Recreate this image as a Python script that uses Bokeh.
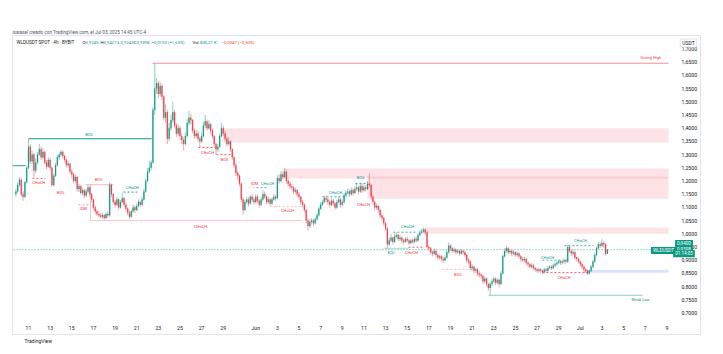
import pandas as pd
from bokeh.plotting import figure
from bokeh.models import Range1d, FixedTicker, Label, Title, ColumnDataSource
from bokeh.core.properties import value
from bokeh.embed import file_html
from bokeh.resources import INLINE

# ---------------- data (WLDUSDT 4h) ----------------
FIRST_BAR = "2025-05-09 20:00"
FIRST_OPEN = 1.150
CLOSE = [
    1.160, 1.185, 1.205, 1.150, 1.140, 1.195,
    1.250, 1.330, 1.275, 1.300, 1.240, 1.270,
    1.300, 1.320, 1.290, 1.310, 1.270, 1.255,
    1.280, 1.250, 1.185, 1.220, 1.260, 1.290,
    1.300, 1.310, 1.295, 1.280, 1.260, 1.265,
    1.235, 1.225, 1.200, 1.215, 1.170, 1.180,
    1.155, 1.165, 1.145, 1.160, 1.175, 1.150,
    1.130, 1.100, 1.085, 1.075, 1.070, 1.065,
    1.070, 1.060, 1.075, 1.070, 1.185, 1.150,
    1.120, 1.110, 1.130, 1.100, 1.120, 1.135,
    1.110, 1.095, 1.080, 1.065, 1.085, 1.100,
    1.090, 1.105, 1.120, 1.110, 1.130, 1.160,
    1.200, 1.235, 1.250, 1.270, 1.470, 1.550,
    1.570, 1.530, 1.560, 1.520, 1.440, 1.460,
    1.360, 1.400, 1.430, 1.460, 1.410, 1.380,
    1.400, 1.370, 1.355, 1.340, 1.370, 1.420,
    1.440, 1.430, 1.390, 1.370, 1.380, 1.360,
    1.350, 1.370, 1.410, 1.425, 1.400, 1.415,
    1.390, 1.370, 1.340, 1.320, 1.330, 1.370,
    1.400, 1.380, 1.360, 1.340, 1.350, 1.320,
    1.290, 1.260, 1.230, 1.220, 1.190, 1.130,
    1.090, 1.120, 1.130, 1.115, 1.140, 1.130,
    1.120, 1.140, 1.125, 1.110, 1.130, 1.150,
    1.140, 1.120, 1.130, 1.115, 1.130, 1.140,
    1.135, 1.210, 1.200, 1.225, 1.215, 1.235,
    1.200, 1.190, 1.180, 1.175, 1.160, 1.165,
    1.150, 1.140, 1.120, 1.110, 1.090, 1.050,
    1.030, 1.045, 1.050, 1.040, 1.055, 1.070,
    1.095, 1.110, 1.120, 1.135, 1.130, 1.120,
    1.110, 1.125, 1.115, 1.100, 1.120, 1.130,
    1.110, 1.120, 1.145, 1.155, 1.160, 1.150,
    1.165, 1.155, 1.170, 1.175, 1.160, 1.180,
    1.165, 1.175, 1.170, 1.190, 1.185, 1.140,
    1.120, 1.100, 1.105, 1.090, 1.070, 1.060,
    1.040, 1.020, 0.960, 0.975, 0.985, 0.970,
    0.990, 0.995, 0.980, 0.985, 0.975, 0.970,
    0.980, 0.975, 0.965, 0.975, 0.970, 0.980,
    0.975, 0.995, 1.005, 1.010, 1.015, 1.005,
    0.950, 0.945, 0.930, 0.925, 0.935, 0.920,
    0.910, 0.915, 0.905, 0.900, 0.910, 0.930,
    0.955, 0.945, 0.935, 0.940, 0.930, 0.935,
    0.925, 0.935, 0.930, 0.920, 0.900, 0.895,
    0.870, 0.875, 0.860, 0.865, 0.850, 0.845,
    0.840, 0.820, 0.830, 0.810, 0.795, 0.810,
    0.820, 0.830, 0.815, 0.825, 0.810, 0.850,
    0.915, 0.935, 0.945, 0.930, 0.935, 0.925,
    0.930, 0.920, 0.925, 0.915, 0.905, 0.900,
    0.905, 0.890, 0.885, 0.875, 0.880, 0.870,
    0.865, 0.860, 0.865, 0.860, 0.855, 0.865,
    0.860, 0.870, 0.875, 0.870, 0.880, 0.885,
    0.890, 0.895, 0.890, 0.895, 0.900, 0.895,
    0.950, 0.935, 0.925, 0.930, 0.910, 0.905,
    0.895, 0.885, 0.875, 0.865, 0.860, 0.850,
    0.860, 0.875, 0.895, 0.920, 0.945, 0.960,
    0.955, 0.965, 0.960, 0.9245, 0.9398,
]
HIGH = [
    1.170, 1.195, 1.215, 1.210, 1.160, 1.200,
    1.258, 1.360, 1.340, 1.315, 1.305, 1.285,
    1.310, 1.340, 1.330, 1.325, 1.315, 1.280,
    1.290, 1.288, 1.255, 1.228, 1.268, 1.298,
    1.308, 1.318, 1.315, 1.300, 1.285, 1.275,
    1.270, 1.245, 1.232, 1.225, 1.220, 1.190,
    1.186, 1.175, 1.170, 1.170, 1.186, 1.180,
    1.155, 1.135, 1.108, 1.092, 1.085, 1.078,
    1.080, 1.075, 1.082, 1.085, 1.195, 1.190,
    1.155, 1.128, 1.140, 1.135, 1.128, 1.156,
    1.140, 1.118, 1.100, 1.088, 1.092, 1.110,
    1.108, 1.115, 1.130, 1.126, 1.140, 1.170,
    1.210, 1.250, 1.275, 1.280, 1.480, 1.646,
    1.590, 1.580, 1.575, 1.568, 1.525, 1.490,
    1.470, 1.420, 1.450, 1.500, 1.470, 1.420,
    1.415, 1.410, 1.380, 1.365, 1.385, 1.435,
    1.465, 1.455, 1.435, 1.400, 1.395, 1.390,
    1.368, 1.385, 1.425, 1.450, 1.432, 1.430,
    1.420, 1.398, 1.375, 1.345, 1.340, 1.380,
    1.420, 1.410, 1.390, 1.368, 1.365, 1.355,
    1.325, 1.295, 1.268, 1.240, 1.225, 1.195,
    1.138, 1.128, 1.140, 1.138, 1.148, 1.150,
    1.138, 1.150, 1.148, 1.130, 1.140, 1.165,
    1.160, 1.145, 1.140, 1.135, 1.138, 1.150,
    1.148, 1.222, 1.225, 1.238, 1.235, 1.250,
    1.242, 1.210, 1.198, 1.188, 1.180, 1.175,
    1.170, 1.158, 1.145, 1.128, 1.115, 1.095,
    1.058, 1.055, 1.060, 1.058, 1.062, 1.080,
    1.105, 1.120, 1.130, 1.145, 1.145, 1.138,
    1.128, 1.135, 1.132, 1.120, 1.128, 1.140,
    1.135, 1.130, 1.155, 1.165, 1.172, 1.168,
    1.175, 1.172, 1.180, 1.190, 1.182, 1.190,
    1.188, 1.185, 1.185, 1.200, 1.228, 1.190,
    1.148, 1.125, 1.115, 1.110, 1.095, 1.078,
    1.065, 1.045, 1.025, 0.985, 0.998, 0.990,
    1.000, 1.005, 1.000, 0.995, 0.990, 0.982,
    0.988, 0.988, 0.980, 0.982, 0.982, 0.988,
    0.988, 1.002, 1.015, 1.020, 1.023, 1.020,
    1.010, 0.958, 0.950, 0.938, 0.945, 0.940,
    0.925, 0.922, 0.920, 0.912, 0.918, 0.938,
    0.967, 0.960, 0.950, 0.948, 0.945, 0.942,
    0.940, 0.942, 0.940, 0.935, 0.925, 0.908,
    0.900, 0.885, 0.880, 0.872, 0.870, 0.858,
    0.852, 0.845, 0.838, 0.835, 0.815, 0.818,
    0.830, 0.838, 0.835, 0.832, 0.830, 0.858,
    0.922, 0.945, 0.955, 0.950, 0.942, 0.940,
    0.938, 0.935, 0.932, 0.930, 0.920, 0.912,
    0.912, 0.910, 0.895, 0.890, 0.888, 0.885,
    0.875, 0.870, 0.872, 0.870, 0.865, 0.872,
    0.870, 0.878, 0.882, 0.880, 0.888, 0.892,
    0.898, 0.902, 0.900, 0.902, 0.908, 0.905,
    0.958, 0.955, 0.940, 0.940, 0.935, 0.915,
    0.910, 0.900, 0.890, 0.880, 0.870, 0.865,
    0.866, 0.882, 0.902, 0.928, 0.952, 0.970,
    0.968, 0.980, 0.972, 0.965, 0.9427,
]
LOW = [
    1.140, 1.155, 1.178, 1.140, 1.125, 1.135,
    1.190, 1.245, 1.265, 1.265, 1.215, 1.230,
    1.262, 1.295, 1.280, 1.282, 1.262, 1.245,
    1.250, 1.240, 1.178, 1.180, 1.215, 1.255,
    1.280, 1.292, 1.285, 1.270, 1.250, 1.250,
    1.228, 1.210, 1.190, 1.192, 1.160, 1.158,
    1.148, 1.145, 1.135, 1.138, 1.152, 1.140,
    1.120, 1.092, 1.075, 1.068, 1.062, 1.058,
    1.058, 1.052, 1.055, 1.060, 1.065, 1.140,
    1.110, 1.098, 1.105, 1.092, 1.095, 1.115,
    1.102, 1.088, 1.070, 1.055, 1.060, 1.080,
    1.078, 1.085, 1.100, 1.102, 1.105, 1.125,
    1.155, 1.195, 1.228, 1.240, 1.265, 1.450,
    1.530, 1.515, 1.520, 1.505, 1.430, 1.420,
    1.340, 1.350, 1.390, 1.420, 1.400, 1.365,
    1.370, 1.355, 1.340, 1.315, 1.335, 1.365,
    1.410, 1.415, 1.380, 1.360, 1.362, 1.350,
    1.327, 1.345, 1.365, 1.400, 1.390, 1.395,
    1.380, 1.360, 1.330, 1.300, 1.310, 1.325,
    1.365, 1.370, 1.350, 1.330, 1.335, 1.310,
    1.280, 1.250, 1.220, 1.205, 1.180, 1.120,
    1.073, 1.085, 1.112, 1.105, 1.110, 1.120,
    1.110, 1.115, 1.115, 1.100, 1.105, 1.125,
    1.132, 1.112, 1.112, 1.105, 1.110, 1.125,
    1.125, 1.130, 1.190, 1.195, 1.205, 1.210,
    1.190, 1.180, 1.170, 1.165, 1.150, 1.152,
    1.140, 1.130, 1.110, 1.100, 1.080, 1.040,
    1.012, 1.022, 1.035, 1.030, 1.035, 1.050,
    1.065, 1.090, 1.105, 1.115, 1.120, 1.110,
    1.100, 1.105, 1.105, 1.092, 1.095, 1.115,
    1.100, 1.105, 1.115, 1.140, 1.148, 1.140,
    1.145, 1.145, 1.150, 1.162, 1.150, 1.155,
    1.155, 1.160, 1.160, 1.165, 1.175, 1.130,
    1.110, 1.090, 1.092, 1.080, 1.060, 1.050,
    1.030, 1.010, 0.944, 0.952, 0.968, 0.960,
    0.965, 0.982, 0.972, 0.972, 0.965, 0.962,
    0.965, 0.968, 0.958, 0.960, 0.962, 0.965,
    0.968, 0.970, 0.990, 1.000, 1.002, 0.995,
    0.942, 0.935, 0.922, 0.915, 0.920, 0.910,
    0.900, 0.902, 0.895, 0.890, 0.895, 0.905,
    0.925, 0.935, 0.928, 0.928, 0.922, 0.925,
    0.918, 0.920, 0.922, 0.912, 0.890, 0.885,
    0.862, 0.862, 0.850, 0.852, 0.840, 0.835,
    0.830, 0.810, 0.812, 0.800, 0.785, 0.767,
    0.802, 0.815, 0.805, 0.808, 0.796, 0.805,
    0.845, 0.910, 0.928, 0.922, 0.925, 0.915,
    0.918, 0.912, 0.912, 0.905, 0.895, 0.892,
    0.893, 0.882, 0.875, 0.868, 0.868, 0.862,
    0.856, 0.852, 0.853, 0.852, 0.848, 0.850,
    0.852, 0.855, 0.865, 0.862, 0.865, 0.875,
    0.880, 0.885, 0.882, 0.884, 0.888, 0.886,
    0.890, 0.928, 0.915, 0.918, 0.902, 0.895,
    0.888, 0.876, 0.866, 0.856, 0.850, 0.843,
    0.845, 0.855, 0.870, 0.890, 0.915, 0.940,
    0.945, 0.950, 0.945, 0.918, 0.9242,
]

DATE_TICKS = ["2025-05-11", "2025-05-13", "2025-05-15", "2025-05-17", "2025-05-19",
              "2025-05-21", "2025-05-23", "2025-05-25", "2025-05-27", "2025-05-29",
              "2025-06-01", "2025-06-03", "2025-06-05", "2025-06-07", "2025-06-09",
              "2025-06-11", "2025-06-13", "2025-06-15", "2025-06-17", "2025-06-19",
              "2025-06-21", "2025-06-23", "2025-06-25", "2025-06-27", "2025-06-29",
              "2025-07-01", "2025-07-03", "2025-07-05", "2025-07-07", "2025-07-09"]
DATE_LABELS = ["11", "13", "15", "17", "19", "21", "23", "25", "27", "29",
               "Jun", "3", "5", "7", "9", "11", "13", "15", "17", "19",
               "21", "23", "25", "27", "29", "Jul", "3", "5", "7", "9"]
PRICE_TICKS = [0.70, 0.75, 0.80, 0.85, 0.90, 0.95, 1.00, 1.05, 1.10, 1.15, 1.20,
               1.25, 1.30, 1.35, 1.40, 1.45, 1.50, 1.55, 1.60, 1.65, 1.70]
PRICE_LABELS = ["0,7000", "0,7500", "0,8000", "0,8500", "0,9000", "0,9500", "1,0000",
                "1,0500", "1,1000", "1,1500", "1,2000", "1,2500", "1,3000", "1,3500",
                "1,4000", "1,4500", "1,5000", "1,5500", "1,6000", "1,6500", "1,7000"]

# supply / demand zones: (start day-of-May, bottom, top)
ZONES_RED = [(28.93, 1.346, 1.400), (34.47, 1.209, 1.247),
             (42.33, 1.133, 1.216), (47.51, 1.000, 1.024)]
ZONES_BLUE = [(62.29, 0.852, 0.863)]
ZONE_END = 70.15

GREEN = "#089981"
RED = "#F23645"
FONT = "Roboto"

# ---------------- geometry helpers ----------------
W, H = 723, 354
FL, FR, FT, FB = 12, 700, 35, 334   # bordered pane incl. price & time scales
PANE_R = 672                         # right edge of the candle pane
PX_PER_DAY = 10.82
X_REF_PX = 28.0
T_REF = pd.Timestamp("2025-05-11")
PX_PER_UNIT = 264.0
Y_REF_PX = 127.7
Y_REF = 1.40


def ms(ts):
    return ts.value / 1e6


def px2x(px):
    return ms(T_REF + pd.Timedelta(days=(px - X_REF_PX) / PX_PER_DAY))


def px2y(py):
    return Y_REF - (py - Y_REF_PX) / PX_PER_UNIT


def day(d):
    return ms(pd.Timestamp("2025-04-30") + pd.Timedelta(days=d))


times = pd.date_range(FIRST_BAR, periods=len(CLOSE), freq="4h")
xs = [t.value / 1e6 for t in times]
OPEN = [FIRST_OPEN] + CLOSE[:-1]
cols = [GREEN if c >= o else RED for o, c in zip(OPEN, CLOSE)]
src = ColumnDataSource(dict(
    x=xs, o=OPEN, c=CLOSE, h=HIGH, l=LOW,
    top=[max(o, c) for o, c in zip(OPEN, CLOSE)],
    bot=[min(o, c) for o, c in zip(OPEN, CLOSE)],
    col=cols))

p = figure(width=W, height=H, output_backend="svg", toolbar_location=None,
           x_range=Range1d(px2x(FL), px2x(FR)),
           y_range=Range1d(px2y(FB), px2y(FT)),
           y_axis_location="right",
           min_border_left=FL, min_border_right=W - FR,
           min_border_top=FT, min_border_bottom=H - FB)
p.outline_line_color = "#E0E3EB"
p.outline_line_width = 1
p.grid.grid_line_color = None
p.background_fill_color = "white"
p.border_fill_color = "white"

# zones
for d0, b, t in ZONES_RED:
    p.quad(left=day(d0), right=day(ZONE_END), bottom=b, top=t,
           fill_color=RED, fill_alpha=0.14, line_color=None)
for d0, b, t in ZONES_BLUE:
    p.quad(left=day(d0), right=day(ZONE_END), bottom=b, top=t,
           fill_color="#2962FF", fill_alpha=0.18, line_color=None)

# structure lines: (d0, d1, price, color, dash, alpha)
LINES = [
    (9.55, 10.72, 1.258, GREEN, "solid", 0.9),
    (11.0, 22.37, 1.36, GREEN, "solid", 1.0),
    (11.37, 12.57, 1.21, RED, "2 2", 0.8),
    (16.27, 18.86, 1.186, RED, "solid", 0.35),
    (15.62, 16.55, 1.11, RED, "2 2", 0.5),
    (16.73, 36.32, 1.05, RED, "solid", 0.3),
    (19.78, 21.07, 1.158, GREEN, "2 2", 0.9),
    (22.46, 70.15, 1.646, RED, "solid", 0.55),
    (26.71, 28.28, 1.327, RED, "2 2", 0.8),
    (28.37, 29.67, 1.30, RED, "2 2", 0.8),
    (31.33, 32.07, 1.175, RED, "2 2", 0.3),
    (32.07, 33.18, 1.175, GREEN, "2 2", 0.7),
    (33.37, 36.14, 1.103, RED, "2 2", 0.35),
    (38.17, 40.48, 1.14, GREEN, "2 2", 0.8),
    (41.22, 42.33, 1.19, GREEN, "2 2", 0.9),
    (43.81, 46.12, 0.945, GREEN, "solid", 0.35),
    (46.12, 47.51, 0.949, RED, "2 2", 0.8),
    (44.73, 46.77, 1.006, GREEN, "2 2", 0.8),
    (49.26, 52.13, 0.865, RED, "2 2", 0.35),
    (53.52, 67.75, 0.767, GREEN, "solid", 0.45),
    (58.5, 60.35, 0.90, GREEN, "2 2", 0.7),
    (58.5, 62.66, 0.853, RED, "2 2", 0.8),
    (60.53, 63.2, 0.955, GREEN, "2 2", 0.8),
]
for d0, d1, y, c, dash, a in LINES:
    p.line([day(d0), day(d1)], [y, y], line_color=c, line_dash=dash,
           line_alpha=a, line_width=1)
p.line([day(16.73), day(16.73)], [1.05, 1.186], line_color=RED, line_alpha=0.3)

# current price line
p.line([px2x(13), px2x(PANE_R)], [CLOSE[-1], CLOSE[-1]], line_color=GREEN,
       line_dash="1 2", line_width=1, line_alpha=0.8)

# candles
w4h = 4 * 3600 * 1000
p.segment(x0="x", y0="h", x1="x", y1="l", source=src, line_color="col",
          line_width=0.55, line_alpha=0.85)
p.vbar(x="x", width=w4h * 0.6, top="top", bottom="bot", source=src,
       fill_color="col", line_color="col", line_width=0.2, fill_alpha=0.9)

# structure labels
TEXTS = [
    (16.6, 1.378, "BOS", GREEN), (11.95, 1.194, "CHoCH", RED), (13.96, 1.156, "BOS", RED),
    (17.47, 1.205, "BOS", RED), (16.08, 1.095, "IDM", RED), (26.9, 1.028, "CHoCH", RED),
    (20.6, 1.176, "CHoCH", GREEN), (68.5, 1.667, "Strong High", RED),
    (27.54, 1.308, "CHoCH", RED), (29.11, 1.281, "BOS", RED), (31.9, 1.19, "IDM", RED),
    (33.09, 1.19, "CHoCH", GREEN), (34.94, 1.087, "CHoCH", RED),
    (39.37, 1.157, "CHoCH", GREEN), (41.68, 1.213, "BOS", GREEN),
    (41.96, 1.11, "CHoCH", RED), (44.54, 0.929, "EQL", GREEN),
    (46.39, 0.929, "CHoCH", RED), (46.03, 1.027, "CHoCH", GREEN),
    (50.68, 0.845, "BOS", RED), (67.56, 0.750, "Weak Low", GREEN),
    (58.97, 0.912, "CHoCH", GREEN), (60.5, 0.834, "CHoCH", RED),
    (62.02, 0.976, "CHoCH", GREEN),
]
tsrc = ColumnDataSource(dict(x=[day(t[0]) for t in TEXTS], y=[t[1] for t in TEXTS],
                             t=[t[2] for t in TEXTS], c=[t[3] for t in TEXTS]))
p.text(x="x", y="y", text="t", text_color="c", source=tsrc, text_align="center",
       text_baseline="middle", text_font_size="4px", text_font=value(FONT))

# axes (labels pulled inside the bordered pane, as on TradingView)
p.xaxis.ticker = FixedTicker(ticks=[ms(pd.Timestamp(d)) for d in DATE_TICKS])
p.xaxis.major_label_overrides = {ms(pd.Timestamp(d)): lab for d, lab in zip(DATE_TICKS, DATE_LABELS)}
p.yaxis.ticker = FixedTicker(ticks=PRICE_TICKS)
p.yaxis.major_label_overrides = {v: lab for v, lab in zip(PRICE_TICKS, PRICE_LABELS)}
for ax in (p.xaxis[0], p.yaxis[0]):
    ax.axis_line_color = None
    ax.major_tick_line_color = None
    ax.minor_tick_line_color = None
    ax.major_tick_out = 0
    ax.major_tick_in = 0
    ax.minor_tick_out = 0
    ax.major_label_text_font_size = "5.2px"
    ax.major_label_text_color = "#131722"
    ax.major_label_text_font = FONT
p.xaxis.major_label_standoff = -10
p.yaxis.major_label_standoff = -19

# header and logo as titles outside the pane
p.add_layout(Title(text="isaiasel creado con TradingView.com, el Jul 03, 2025 14:45 UTC-4",
                   align="left", offset=0, standoff=2, text_font_size="4.6px",
                   text_font=FONT, text_color="#50535E", text_font_style="normal"), "above")
p.add_layout(Title(text="TradingView", align="left", offset=12, standoff=2,
                   text_font_size="5px", text_font=FONT, text_color="#131722",
                   text_font_style="normal"), "below")


def lab(px, py, text, color="#131722", size="4.3px", align="left", bg=None, border=None,
        bold=False):
    l = Label(x=px2x(px), y=px2y(py), text=text, text_color=color, text_font_size=size,
              text_font=FONT, text_align=align, text_baseline="middle",
              text_font_style="bold" if bold else "normal")
    if bg is not None:
        l.background_fill_color = bg
        l.padding = (2, 1)
    if border is not None:
        l.border_line_color = border
    p.add_layout(l)


# legend row
lab(16, 42, "WLDUSDT SPOT · 4h · BYBIT", size="4.6px")
legend = [(82, "O", "0,9245"), (100, "H", "0,9427"), (117, "L", "0,9242"), (133, "C", "0,9398")]
for x0, k, v in legend:
    lab(x0, 42, k)
    lab(x0 + 3.0, 42, v, color=GREEN)
lab(151, 42, "+0,0153 (+1,65%)", color=GREEN)
lab(192, 42, "Vol")
lab(199.5, 42, "836,27 K", color=GREEN)
lab(221, 42, "−0,0047 (−0,50%)", color=RED)

# price scale boxes
lab(688, 42.5, "USDT", size="5px", align="center", bg="white", border="#E0E3EB")
lab(663, 250, "WLDUSDT", color="white", size="4.6px", align="center", bg=GREEN)
lab(683.5, 242.5, "0,9400", color="white", size="4.6px", align="center", bg=GREEN)
lab(683.5, 248.3, "0,9398", color="white", size="4.6px", align="center", bg=GREEN)
lab(683.5, 253.2, "01:14:05", color="white", size="4.6px", align="center", bg=GREEN)

open("out.html", "w").write(file_html(p, INLINE))
